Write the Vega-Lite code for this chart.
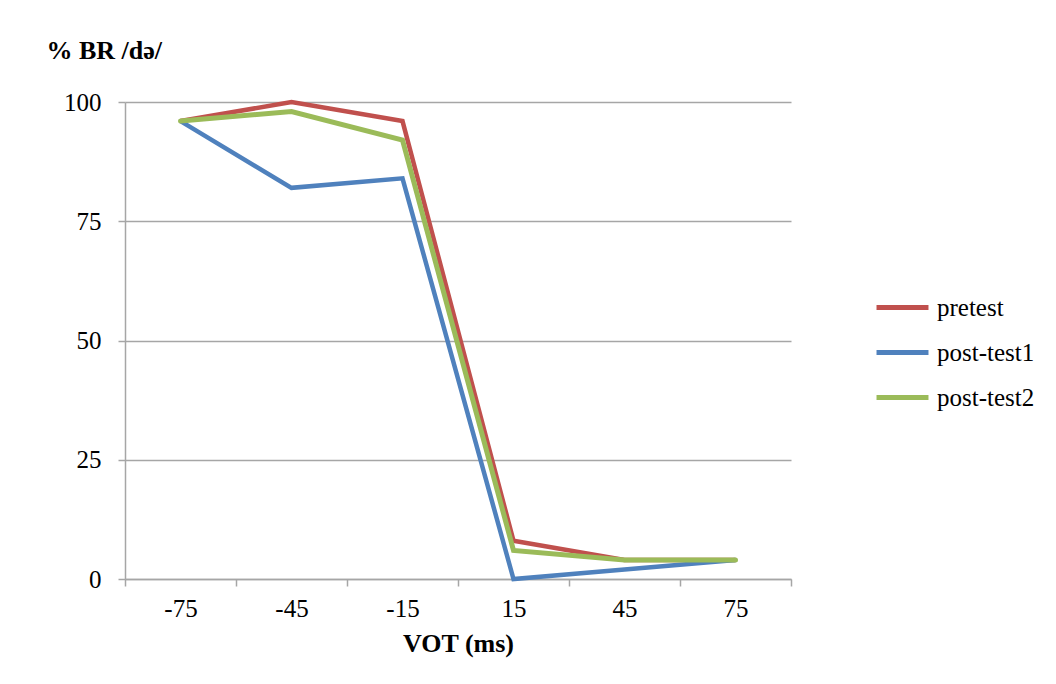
{
  "$schema": "https://vega.github.io/schema/vega-lite/v6.json",
  "autosize": "none",
  "width": 666,
  "height": 477,
  "padding": {"left": 125, "top": 102, "right": 265, "bottom": 105},
  "background": "white",
  "config": {
    "view": {"stroke": null},
    "font": "Liberation Serif",
    "axis": {"labelFont": "Liberation Serif", "titleFont": "Liberation Serif", "labelColor": "black", "titleColor": "black", "domainColor": "#A6A6A6", "tickColor": "#A6A6A6", "gridColor": "#A6A6A6", "domainWidth": 1.5, "tickWidth": 1.5, "gridWidth": 1.5},
    "legend": {"labelFont": "Liberation Serif", "labelFontSize": 25, "labelColor": "black", "rowPadding": 3, "labelOffset": 6, "symbolType": "stroke", "symbolStrokeWidth": 5, "symbolSize": 2700}
  },
  "data": {"values": [
    {"vot": "-75", "series": "pretest", "value": 96},
    {"vot": "-45", "series": "pretest", "value": 100},
    {"vot": "-15", "series": "pretest", "value": 96},
    {"vot": "15", "series": "pretest", "value": 8},
    {"vot": "45", "series": "pretest", "value": 4},
    {"vot": "75", "series": "pretest", "value": 4},
    {"vot": "-75", "series": "post-test1", "value": 96},
    {"vot": "-45", "series": "post-test1", "value": 82},
    {"vot": "-15", "series": "post-test1", "value": 84},
    {"vot": "15", "series": "post-test1", "value": 0},
    {"vot": "45", "series": "post-test1", "value": 2},
    {"vot": "75", "series": "post-test1", "value": 4},
    {"vot": "-75", "series": "post-test2", "value": 96},
    {"vot": "-45", "series": "post-test2", "value": 98},
    {"vot": "-15", "series": "post-test2", "value": 92},
    {"vot": "15", "series": "post-test2", "value": 6},
    {"vot": "45", "series": "post-test2", "value": 4},
    {"vot": "75", "series": "post-test2", "value": 4}
  ]},
  "encoding": {
    "x": {
      "field": "vot", "type": "ordinal",
      "sort": ["-75", "-45", "-15", "15", "45", "75"],
      "scale": {"paddingInner": 0, "paddingOuter": 0},
      "axis": {
        "title": "VOT (ms)", "titleFontSize": 26, "titleFontWeight": "bold", "titlePadding": 9,
        "labelAngle": 0, "labelFontSize": 25, "labelPadding": 10, "tickSize": 7, "tickBand": "extent",
        "grid": false
      }
    },
    "y": {
      "field": "value", "type": "quantitative",
      "scale": {"domain": [0, 100], "nice": false},
      "axis": {
        "values": [0, 25, 50, 75, 100], "title": "% BR /də/", "titleFontSize": 26, "titleFontWeight": "bold",
        "titleAngle": 0, "titleAlign": "left", "titleBaseline": "middle", "titleX": -79, "titleY": -52,
        "labelFontSize": 25, "labelPadding": 17, "tickSize": 7, "grid": true
      }
    },
    "color": {
      "field": "series", "type": "nominal",
      "scale": {"domain": ["pretest", "post-test1", "post-test2"], "range": ["#C0504D", "#4F81BD", "#9BBB59"]},
      "legend": {
        "title": null, "orient": "none", "legendX": 749, "legendY": 177,
        "symbolType": "stroke", "symbolSize": 2700, "symbolStrokeWidth": 5,
        "labelFont": "Liberation Serif", "labelFontSize": 25, "labelColor": "black", "labelOffset": 6,
        "rowPadding": 3
      }
    }
  },
  "layer": [
    {"transform": [{"filter": "datum.series === 'pretest'"}], "mark": {"type": "line", "strokeWidth": 4.5}},
    {"transform": [{"filter": "datum.series === 'post-test1'"}], "mark": {"type": "line", "strokeWidth": 4.5}},
    {"transform": [{"filter": "datum.series === 'post-test2'"}], "mark": {"type": "line", "strokeWidth": 5, "strokeCap": "round"}}
  ]
}
